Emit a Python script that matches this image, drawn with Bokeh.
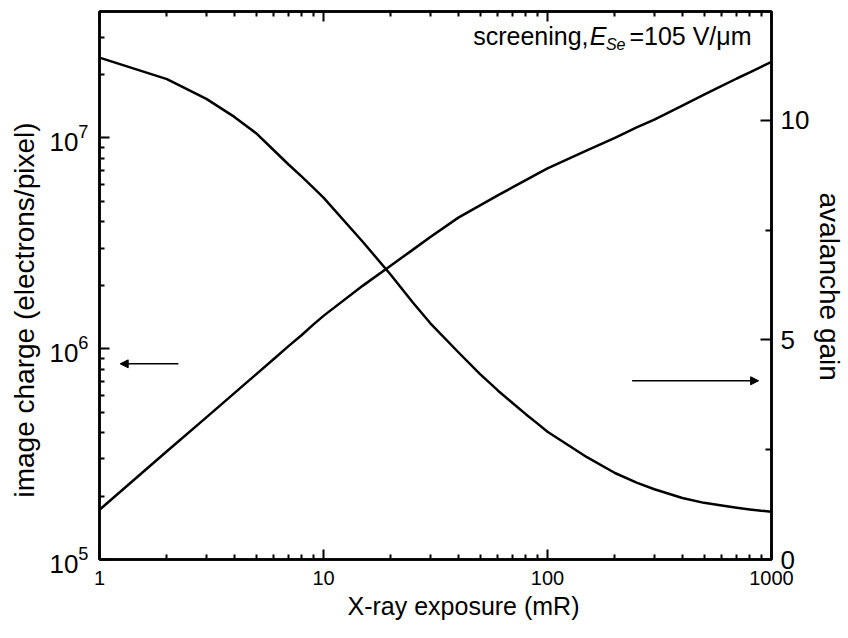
from bokeh.plotting import figure
from bokeh.models import (LogAxis, LinearAxis, LinearScale, Range1d, FixedTicker, Arrow,
                          NormalHead, Label, Title, PrintfTickFormatter, LogTickFormatter)
from bokeh.embed import file_html
from bokeh.resources import INLINE

# X-ray exposure (mR)
exposure = [1, 2, 3, 4, 5, 6, 7, 8, 9, 10, 15, 20, 25, 30, 40, 50, 60, 70, 80, 90,
            100, 150, 200, 250, 300, 400, 500, 600, 700, 800, 900, 1000]
# image charge (electrons/pixel), left log axis
image_charge = [1.72e5, 3.26e5, 4.72e5, 6.15e5, 7.55e5, 8.93e5, 1.03e6, 1.16e6, 1.30e6,
                1.43e6, 1.99e6, 2.48e6, 2.94e6, 3.38e6, 4.18e6, 4.78e6, 5.33e6, 5.83e6,
                6.30e6, 6.74e6, 7.16e6, 8.71e6, 1.00e7, 1.12e7, 1.22e7, 1.42e7, 1.60e7,
                1.76e7, 1.91e7, 2.04e7, 2.17e7, 2.29e7]
# avalanche gain, right linear axis
avalanche_gain = [11.43, 10.94, 10.49, 10.08, 9.71, 9.32, 8.99, 8.72, 8.47, 8.24, 7.23,
                  6.48, 5.86, 5.38, 4.72, 4.22, 3.85, 3.56, 3.31, 3.10, 2.91, 2.33, 1.97,
                  1.75, 1.60, 1.40, 1.29, 1.23, 1.18, 1.14, 1.11, 1.09]

x_major = [1, 10, 100, 1000]
x_minor = [m * d for d in (1, 10, 100) for m in range(2, 10)]
charge_major = [1e5, 1e6, 1e7]
charge_minor = [m * d for d in (1e5, 1e6) for m in range(2, 10)] + [2e7, 3e7]
gain_major = [0, 5, 10]
gain_minor = [2.5, 7.5]

FONT = "Liberation Sans"
LW = 2.5

p = figure(width=848, height=638, x_axis_type="log", y_axis_type="log",
           x_range=Range1d(1, 1000), y_range=Range1d(1e5, 3.97e7),
           output_backend="svg", toolbar_location=None, title=None,
           min_border_left=99, min_border_right=76, min_border_top=11,
           min_border_bottom=79)
p.extra_y_ranges = {"gain": Range1d(0, 12.48)}
p.extra_y_scales = {"gain": LinearScale()}
p.grid.visible = False
p.outline_line_color = "black"
p.outline_line_width = LW
p.background_fill_color = "white"
p.border_fill_color = "white"


def style_ticks(ax):
    ax.axis_line_width = LW
    ax.major_tick_line_width = 2
    ax.minor_tick_line_width = 2
    ax.major_tick_in = 10
    ax.major_tick_out = 0
    ax.minor_tick_in = 5
    ax.minor_tick_out = 0
    ax.major_label_text_color = "black"


def axis_title(text, size, offset, standoff):
    # axis titles as side-panel titles so they can sit off-centre along the axis
    t = Title(text=text, align="left", offset=offset, text_font=FONT,
              text_font_size=size, text_font_style="normal", text_color="black")
    if "standoff" in t.properties():
        t.standoff = standoff
    return t


# bottom axis
xa = p.xaxis[0]
xa.ticker = FixedTicker(ticks=x_major, minor_ticks=x_minor)
xa.formatter = PrintfTickFormatter(format="%d")
style_ticks(xa)
xa.major_label_text_font = FONT
xa.major_label_text_font_size = "20px"
xa.major_label_standoff = 11
p.add_layout(axis_title("X-ray exposure (mR)", "25px", 248, 4), "below")

# top mirror axis
top = LogAxis(ticker=FixedTicker(ticks=x_major, minor_ticks=x_minor))
style_ticks(top)
top.major_label_text_font_size = "1px"
top.major_label_text_alpha = 0
top.major_label_standoff = 0
p.add_layout(top, "above")

# left axis, powers of ten
ya = p.yaxis[0]
ya.ticker = FixedTicker(ticks=charge_major, minor_ticks=charge_minor)
ya.formatter = LogTickFormatter()
style_ticks(ya)
ya.major_label_text_font = FONT
ya.major_label_text_font_size = "26px"
ya.major_label_standoff = 11
p.add_layout(axis_title("image charge (electrons/pixel)", "28px", 62, 13), "left")

# right axis
ra = LinearAxis(y_range_name="gain",
                ticker=FixedTicker(ticks=gain_major, minor_ticks=gain_minor),
                formatter=PrintfTickFormatter(format="%d"))
style_ticks(ra)
ra.minor_tick_in = 6
ra.major_tick_in = 11
ra.major_label_text_font = FONT
ra.major_label_text_font_size = "26px"
ra.major_label_standoff = 9
p.add_layout(ra, "right")
p.add_layout(axis_title("avalanche gain", "28px", 181, 3), "right")

# curves
p.line(exposure, image_charge, line_color="black", line_width=2.5, line_join="round")
p.line(exposure, avalanche_gain, line_color="black", line_width=2.5, line_join="round",
       y_range_name="gain")

# arrows pointing to the axis each curve belongs to
p.add_layout(Arrow(x_start=2.25, y_start=8.47e5, x_end=1.237, y_end=8.47e5,
                   line_width=1.5, line_color="black",
                   end=NormalHead(size=8, fill_color="black", line_color="black")))
p.add_layout(Arrow(x_start=238.6, y_start=4.07, x_end=876, y_end=4.07,
                   y_range_name="gain", line_width=1.5, line_color="black",
                   end=NormalHead(size=8, fill_color="black", line_color="black")))

# condition note, top right
note_y = 3.05e7
note_style = dict(x=1000, y=note_y, text_align="right", text_baseline="alphabetic",
                  text_font=FONT, text_color="black")
p.add_layout(Label(text="=105 V/\u03bcm", x_offset=-20, text_font_size="25px",
                   **note_style))
p.add_layout(Label(text="Se", x_offset=-146, y_offset=-9, text_font_size="16px",
                   text_font_style="italic", **note_style))
p.add_layout(Label(text="E", x_offset=-165, text_font_size="25px",
                   text_font_style="italic", **note_style))
p.add_layout(Label(text="screening,", x_offset=-183, text_font_size="25px",
                   **note_style))

open("out.html", "w").write(file_html(p, INLINE))
